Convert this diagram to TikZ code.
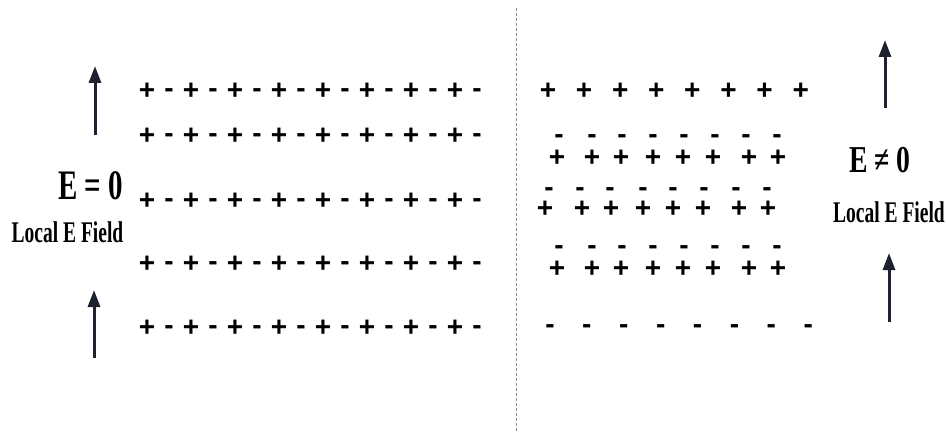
\documentclass[tikz,border=0pt]{standalone}
\usepackage{fontspec}
\usepackage{graphicx}
\setmainfont{Liberation Serif}
\newfontfamily\chargefont{Liberation Sans}
\usetikzlibrary{arrows.meta}
\definecolor{arrowdark}{HTML}{1E2230}
\definecolor{splitgray}{HTML}{8A8A8A}

\tikzset{
  pchg/.style={inner sep=0pt, anchor=base, yshift=-9.7pt,
               font=\chargefont\bfseries\fontsize{28}{28}\selectfont},
  nchg/.style={inner sep=0pt, anchor=base, yshift=-7.3pt,
               font=\chargefont\bfseries\fontsize{28}{28}\selectfont},
  fieldarrow/.style={draw=arrowdark, line width=3pt,
                     -{Triangle[length=17pt, width=12pt]}},
  fieldlabel/.style={inner sep=0pt, font=\bfseries}
}

\begin{document}
\begin{tikzpicture}[x=1pt, y=-1pt]
  \useasboundingbox (0,0) rectangle (946,436);

  % dividing line
  \coordinate (splittop) at (516,8);
  \coordinate (splitbot) at (516,432);
  \draw[splitgray, line width=0.8pt, dash pattern=on 3pt off 2pt] (splittop) -- (splitbot);

  % left: paired dipoles, no net field
  \foreach \r/\y in {1/90, 2/135, 3/200, 4/263, 5/327}
    \foreach \i in {0,...,7} {
      \node[pchg] (lp-\r-\i) at ({147+44*\i}, \y) {+};
      \node[nchg] (lm-\r-\i) at ({169+44*\i}, \y) {-};
    }

  % right: separated charges
  \foreach \i in {0,...,7}
    \node[pchg] (rp-1-\i) at ({548+36.1*\i}, 90) {+};
  \foreach \r/\ym/\yp in {2/136/157, 4/247/268}
    \foreach \xp/\xm [count=\i] in {557/559, 592/592, 621/622, 653/653,
                                     683/684, 713/715, 749/746, 778/777} {
      \node[nchg] (rm-\r-\i) at (\xm, \ym) {-};
      \node[pchg] (rp-\r-\i) at (\xp, \yp) {+};
    }
  \foreach \xp/\xm [count=\i] in {545/549, 582/580, 611/610, 643/643,
                                   673/673, 703/704, 739/736, 768/767} {
    \node[nchg] (rm-3-\i) at (\xm, 189) {-};
    \node[pchg] (rp-3-\i) at (\xp, 208) {+};
  }
  \foreach \i in {0,...,7}
    \node[nchg] (rm-5-\i) at ({550+36.9*\i}, 326) {-};

  % labels
  \node[fieldlabel] (ezero) at (90.5,186)
    {\scalebox{0.69}[1]{\fontsize{42}{42}\selectfont E = 0}};
  \node[fieldlabel] (locall) at (67.5,232)
    {\scalebox{0.65}[1]{\fontsize{30}{30}\selectfont Local E Field}};
  \node[fieldlabel] (enonzero) at (880,160)
    {\scalebox{0.73}[1]{\fontsize{38}{38}\selectfont E ≠ 0}};
  \node[fieldlabel] (localr) at (889,212)
    {\scalebox{0.65}[1]{\fontsize{30}{30}\selectfont Local E Field}};

  % field arrows
  \coordinate (ltA) at (95,135);  \coordinate (ltB) at (95,66);
  \coordinate (lbA) at (94,358);  \coordinate (lbB) at (94,290);
  \coordinate (rtA) at (885,108); \coordinate (rtB) at (885,40);
  \coordinate (rbA) at (889,322); \coordinate (rbB) at (889,253);
  \draw[fieldarrow] (ltA) -- (ltB);
  \draw[fieldarrow] (lbA) -- (lbB);
  \draw[fieldarrow] (rtA) -- (rtB);
  \draw[fieldarrow] (rbA) -- (rbB);
\end{tikzpicture}
\end{document}
